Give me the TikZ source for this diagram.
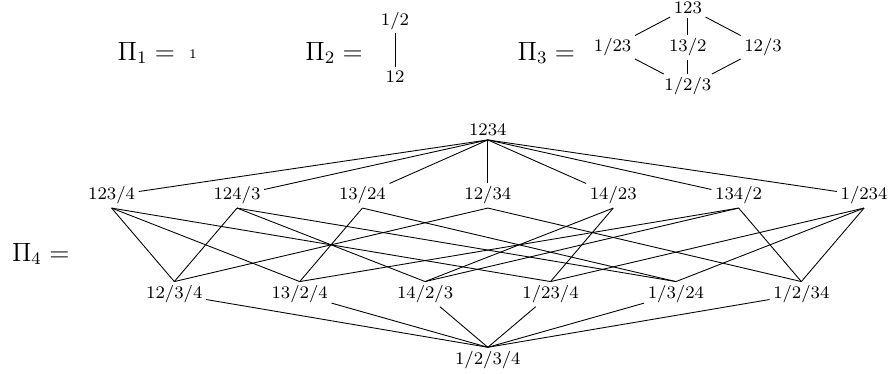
\documentclass[tikz,border=0pt]{standalone}
\begin{document}
\begin{tikzpicture}
        \useasboundingbox (0,0) rectangle (14.21,-5.95);
        \begin{scope}[every node/.style={anchor=base west,inner sep=0pt,font=\fontsize{12}{14}\selectfont}]
        \node (pi1) at (1.869,-0.957) {$\Pi_1 =$};
        \node (pi2) at (4.864,-0.957) {$\Pi_2 =$};
        \node (pi3) at (8.249,-0.957) {$\Pi_3 =$};
        \node (pi4) at (0.185,-4.163) {$\Pi_4 =$};
        \end{scope}
        \node[font=\fontsize{6}{7}\selectfont] (s) at (3.078,-0.857) {1};
        \begin{scope}[every node/.style={inner sep=1.5pt,font=\fontsize{8}{10}\selectfont}]
        % Pi_2
        \node (u1) at (6.30,-0.333) {1/2};
        \node (u2) at (6.30,-1.228) {12};
        % Pi_3
        \node (v) at (10.97,-0.124) {123};
        \node (v1) at (9.77,-0.754) {1/23};
        \node (v2) at (10.97,-0.754) {13/2};
        \node (v3) at (12.17,-0.754) {12/3};
        \node (w) at (10.97,-1.381) {1/2/3};
        % Pi_4
        \node (t) at (7.78,-2.074) {1234};
        \node (a1) at (1.78,-3.118) {123/4};
        \node (a2) at (3.78,-3.118) {124/3};
        \node (a3) at (5.78,-3.118) {13/24};
        \node (a4) at (7.78,-3.118) {12/34};
        \node (a5) at (9.78,-3.118) {14/23};
        \node (a6) at (11.78,-3.118) {134/2};
        \node (a7) at (13.78,-3.118) {1/234};
        \node (b1) at (2.78,-4.691) {12/3/4};
        \node (b2) at (4.78,-4.691) {13/2/4};
        \node (b3) at (6.78,-4.691) {14/2/3};
        \node (b4) at (8.78,-4.691) {1/23/4};
        \node (b5) at (10.78,-4.691) {1/3/24};
        \node (b6) at (12.78,-4.691) {1/2/34};
        \node (z) at (7.78,-5.739) {1/2/3/4};
        \end{scope}
        \begin{scope}[every edge/.style={draw=black}]
        \path (u1) edge (u2);
        \path (v) edge (v1)
              (v) edge (v2)
              (v) edge (v3)
              (v1) edge (w)
              (v2) edge (w)
              (v3) edge (w);
        \path (t.south) edge (a1)
              (t.south) edge (a2)
              (t.south) edge (a3)
              (t.south) edge (a4)
              (t.south) edge (a5)
              (t.south) edge (a6)
              (t.south) edge (a7);
        \path (a1.south) edge (b1.north)
              (a1.south) edge (b2.north)
              (a1.south) edge (b4.north)
              (a2.south) edge (b1.north)
              (a2.south) edge (b3.north)
              (a2.south) edge (b5.north)
              (a3.south) edge (b2.north)
              (a3.south) edge (b5.north)
              (a4.south) edge (b1.north)
              (a4.south) edge (b6.north)
              (a5.south) edge (b3.north)
              (a5.south) edge (b4.north)
              (a6.south) edge (b2.north)
              (a6.south) edge (b3.north)
              (a6.south) edge (b6.north)
              (a7.south) edge (b4.north)
              (a7.south) edge (b5.north)
              (a7.south) edge (b6.north);
        \path (b1) edge (z.north)
              (b2) edge (z.north)
              (b3) edge (z.north)
              (b4) edge (z.north)
              (b5) edge (z.north)
              (b6) edge (z.north);
        \end{scope}
\end{tikzpicture}
\end{document}
